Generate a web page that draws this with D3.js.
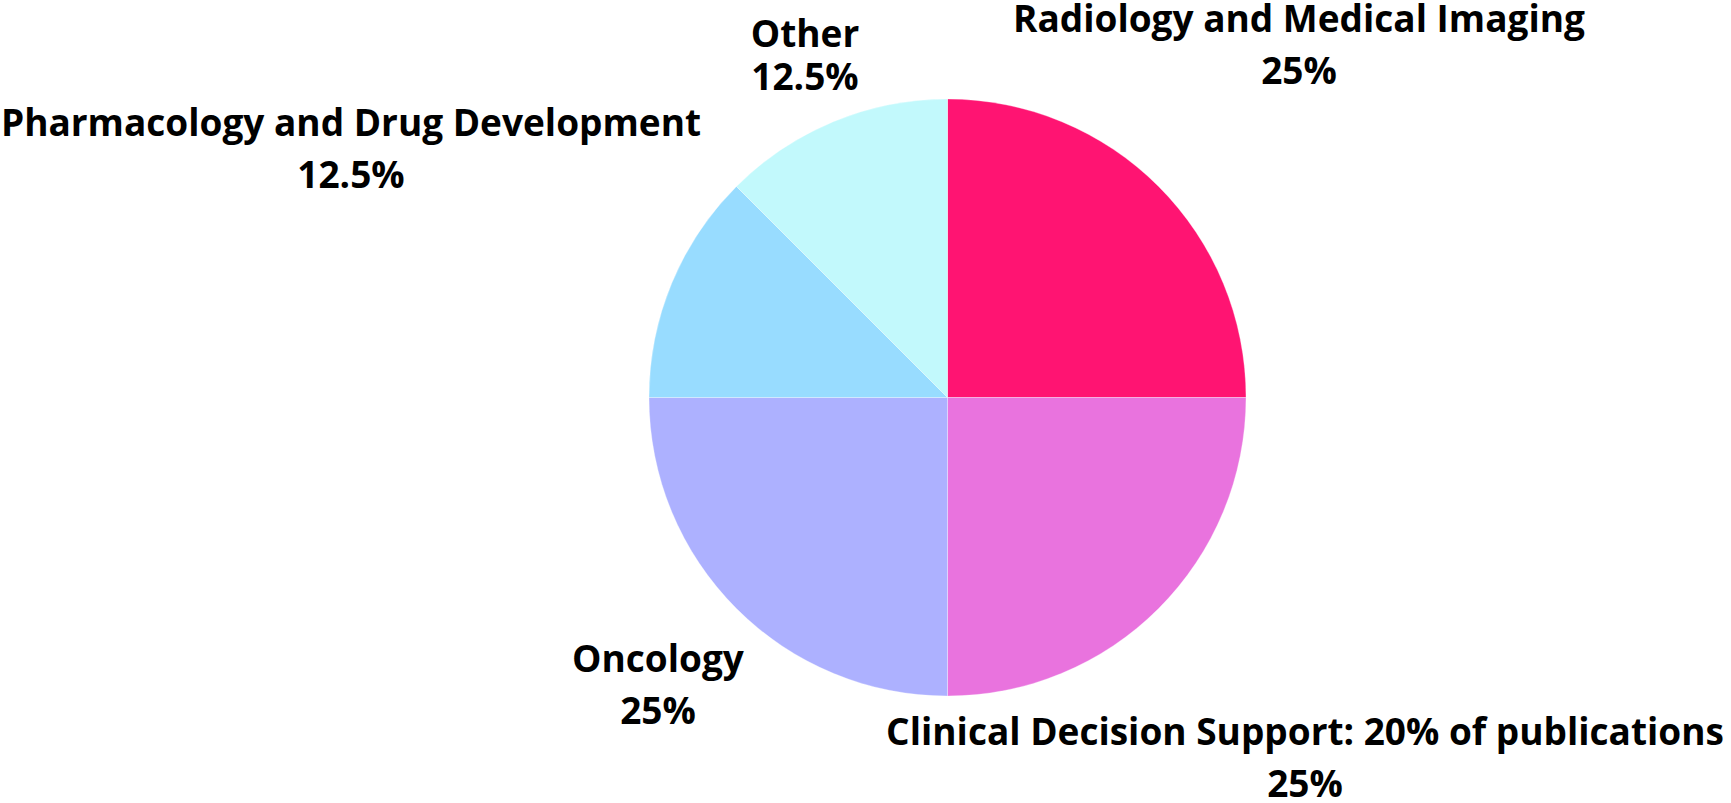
<!DOCTYPE html>
<html>
<head>
<meta charset="utf-8">
<script src="https://cdn.jsdelivr.net/npm/d3@7"></script>
<style>
  html, body { margin: 0; padding: 0; background: #ffffff; }
  svg { display: block; }
  text { font-family: "Open Sans", "Noto Sans", sans-serif; font-weight: 700; fill: #000; }
</style>
</head>
<body>
<svg id="chart" width="1731" height="803"></svg>
<script>
// ---- data ----
const categories = [
  "Radiology and Medical Imaging",
  "Clinical Decision Support: 20% of publications",
  "Oncology",
  "Pharmacology and Drug Development",
  "Other"
];
const values = [25, 25, 25, 12.5, 12.5];
const percentLabels = ["25%", "25%", "25%", "12.5%", "12.5%"];

// ---- styles / layout ----
const colors = ["#FF1472", "#E973DE", "#ADB1FF", "#98DCFF", "#C2F9FC"];
const labelAnchors = [   // [centre x, first baseline, second baseline]
  [1299, 32, 84],
  [1305, 745, 797],
  [658, 672, 724],
  [351, 136, 188],
  [805, 47, 90]
];

const width = 1731, height = 803;
const cx = 947.5, cy = 397.5, radius = 298.5;
const svg = d3.select("#chart");

const pie = d3.pie().sort(null).value(d => d.value);
const arc = d3.arc().innerRadius(0).outerRadius(radius);
const data = categories.map((c, i) => ({ name: c, value: values[i], pct: percentLabels[i], i }));

const g = svg.append("g").attr("transform", `translate(${cx},${cy})`);
g.selectAll("path")
  .data(pie(data))
  .join("path")
  .attr("d", arc)
  .attr("fill", d => colors[d.data.i])
  .attr("stroke", "#ffffff")
  .attr("stroke-opacity", 0.5)
  .attr("stroke-width", 0.6);

const labels = svg.append("g").selectAll("text")
  .data(data)
  .join("text")
  .attr("text-anchor", "middle")
  .attr("font-size", 37);
labels.append("tspan")
  .attr("x", d => labelAnchors[d.i][0])
  .attr("y", d => labelAnchors[d.i][1])
  .text(d => d.name);
labels.append("tspan")
  .attr("x", d => labelAnchors[d.i][0])
  .attr("y", d => labelAnchors[d.i][2])
  .text(d => d.pct);
</script>
</body>
</html>
